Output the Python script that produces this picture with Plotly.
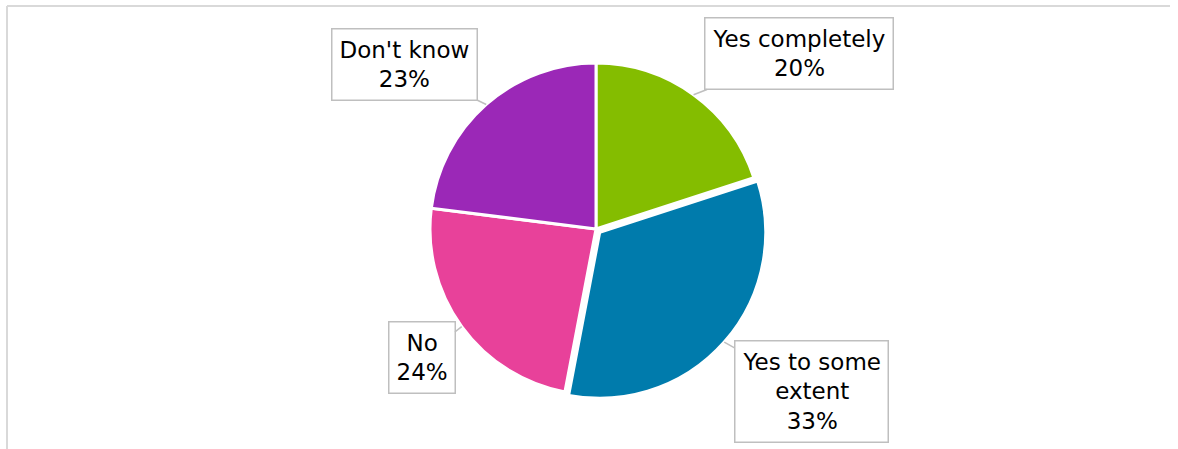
import math
import plotly.graph_objects as go

categories = ["Yes completely", "Yes to some extent", "No", "Don't know"]
values = [20, 33, 24, 23]
colors = ["#84BD00", "#007BAC", "#E8419A", "#9B28B7"]
pulls = [0, 0.03, 0, 0]
# label text offsets (px) from slice callout point
label_offsets = [(105, -41), (87, 49), (-40, 31), (-82, -40)]

W, H = 1178, 449
cx, cy, r = 596, 229, 166
maxpull = max(pulls)
box = r * (2 + 2 * maxpull)

fig = go.Figure(go.Pie(
    labels=categories, values=values, sort=False, direction="clockwise", rotation=0,
    pull=pulls, textinfo="none", hoverinfo="label+percent",
    marker=dict(colors=colors, line=dict(color="white", width=3)),
    domain=dict(x=[(cx - box / 2) / W, (cx + box / 2) / W],
                y=[1 - (cy + box / 2) / H, 1 - (cy - box / 2) / H]),
    showlegend=False,
))

total = sum(values)
cum = 0
annotations = []
for lab, v, p, (ax, ay) in zip(categories, values, pulls, label_offsets):
    mid = (cum + v / 2) / total * 2 * math.pi
    cum += v
    sx, sy = math.sin(mid), -math.cos(mid)
    px = cx + sx * r * (1 + p)
    py = cy + sy * r * (1 + p)
    pct = round(v / total * 100)
    name = lab.replace("Yes to some extent", "Yes to some<br>extent")
    annotations.append(dict(
        x=px / W, y=1 - py / H, xref="paper", yref="paper",
        text=f"{name}<br>{pct}%", showarrow=True, arrowhead=0, arrowwidth=1.5,
        arrowcolor="#BFBFBF", ax=ax, ay=ay, bgcolor="white",
        bordercolor="#BFBFBF", borderwidth=1.5, borderpad=7,
        font=dict(family="DejaVu Sans", size=23, color="black"), align="center",
    ))

fig.update_layout(
    width=W, height=H, margin=dict(l=0, r=0, t=0, b=0),
    paper_bgcolor="white", plot_bgcolor="white",
    annotations=annotations,
    shapes=[
        dict(type="line", xref="paper", yref="paper", x0=7 / W, x1=1170 / W, y0=1 - 6 / H, y1=1 - 6 / H,
             line=dict(color="#D9D9D9", width=2)),
        dict(type="line", xref="paper", yref="paper", x0=7 / W, x1=7 / W, y0=1 - 6 / H, y1=0,
             line=dict(color="#D9D9D9", width=2)),
    ],
)
fig.write_html("out.html")
